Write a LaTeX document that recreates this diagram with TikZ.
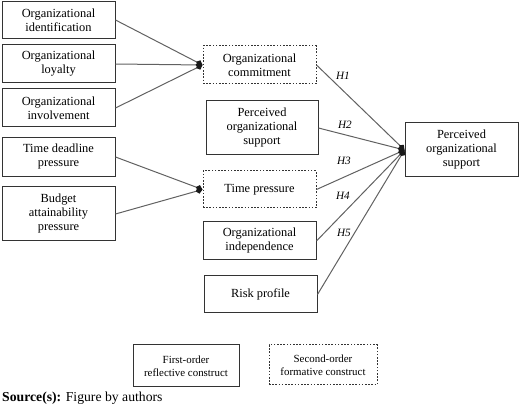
\documentclass[tikz,border=0pt]{standalone}
\usepackage{fontspec}
\setmainfont{Liberation Serif}
\usetikzlibrary{arrows.meta}
\begin{document}
\begin{tikzpicture}[x=1pt,y=-1pt,
  box/.style={draw=black!80,line width=1pt,minimum width=113pt,inner sep=1pt,align=center,
    font=\fontsize{12.4}{14}\selectfont},
  dbox/.style={box,dash pattern=on 1.6pt off 1.6pt},
  legbox/.style={draw=black!80,line width=1pt,inner sep=1pt,align=center,
    font=\fontsize{10.9}{13}\selectfont},
  conn/.style={draw=black!62,line width=1pt},
  arr/.style={conn,-{Kite[length=7pt,width=6.5pt,inset=3pt,color=black!90]}},
  hlab/.style={font=\fontsize{11.2}{13}\selectfont\itshape,inner sep=0pt}]
\useasboundingbox (0,0) rectangle (520,406);
% left first-order boxes
\node[box,minimum height=37pt] (oi) at (58.5,20) {Organizational\\identification};
\node[box,minimum height=38pt] (ol) at (58.5,64) {Organizational\\loyalty};
\node[box,minimum height=38pt] (ov) at (58.5,108) {Organizational\\involvement};
\node[box,minimum height=39pt] (td) at (58.5,157) {Time deadline\\pressure};
\node[box,minimum height=54pt] (ba) at (58.5,214) {Budget\\attainability\\pressure};
% middle
\node[dbox,minimum height=38pt] (oc) at (259.5,65) {Organizational\\commitment};
\node[box,minimum width=112pt,minimum height=54pt] (pos) at (262,128) {Perceived\\organizational\\support};
\node[dbox,minimum height=37pt] (tp) at (259.5,189.5) {Time pressure};
\node[box,minimum height=38pt] (oind) at (259.5,241) {Organizational\\independence};
\node[box,minimum height=37pt] (rp) at (260.5,294.5) {Risk profile};
% right
\node[box,minimum height=54pt] (posr) at (461.5,150) {Perceived\\organizational\\support};
% connectors
\draw[arr] (oi.east) -- (oc.west);
\draw[arr] (ol.east) -- (oc.west);
\draw[arr] (ov.east) -- (oc.west);
\draw[arr] (td.east) -- (tp.west);
\draw[arr] (ba.east) -- (tp.west);
\draw[arr] (oc.east) -- (posr.west);
\draw[arr] (pos.east) -- (posr.west);
\draw[arr] (tp.east) -- (posr.west);
\draw[arr] (oind.east) -- (posr.west);
\draw[arr] (rp.east) -- (posr.west);
% hypothesis labels
\node[hlab] (h1) at (343,76) {H1};
\node[hlab] (h2) at (345,125) {H2};
\node[hlab] (h3) at (344,161) {H3};
\node[hlab] (h4) at (343,196) {H4};
\node[hlab] (h5) at (344,233) {H5};
% legend
\node[legbox,minimum width=106pt,minimum height=42pt] (leg1) at (186,366) {First-order\\reflective construct};
\node[legbox,dash pattern=on 1.6pt off 1.6pt,minimum width=108pt,minimum height=40pt] (leg2) at (323,365) {Second-order\\formative construct};
% source
\node[anchor=west,inner sep=0pt,font=\fontsize{13.7}{15}\selectfont] (src) at (2,398) {\textbf{Source(s):} Figure by authors};
\end{tikzpicture}
\end{document}
